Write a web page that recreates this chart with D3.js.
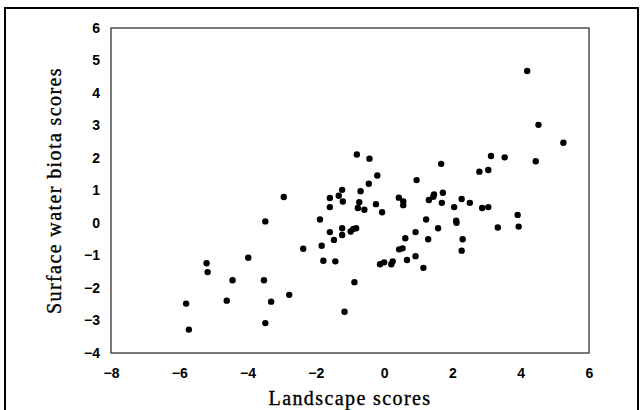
<!DOCTYPE html>
<html>
<head>
<meta charset="utf-8">
<script src="https://cdn.jsdelivr.net/npm/d3@7"></script>
<style>
  body { margin: 0; background: #fff; }
  .tick text { font-family: "Liberation Sans", Arial, sans-serif; font-weight: bold; font-size: 14px; fill: #000; }
  .title { font-family: "Liberation Serif", "Times New Roman", serif; font-size: 20px; fill: #000; stroke: #000; stroke-width: 0.35px; }
</style>
</head>
<body>
<div id="chart"></div>
<script>
// scores
const landscape = [4.19, 4.52, 5.25, 3.13, 3.53, 4.44, 2.79, 3.05, 1.67, -0.80,
  -0.43, -0.20, 0.95, -0.45, -0.69, -1.23, -1.33, -1.59, -1.21, -1.59,
  -0.73, -0.77, -0.58, -0.24, -0.06, 0.43, 0.56, 0.56, 1.31, 1.44,
  1.46, 1.72, 1.69, 2.05, 2.27, 2.51, 2.87, 3.05, 3.91, 3.94,
  3.33, 2.11, 2.12, 1.23, 1.58, 0.92, 0.62, 1.29, 2.30, 2.27,
  0.44, 0.54, 0.92, 0.67, 1.15, -0.12, 0.00, 0.21, 0.25, -1.88,
  -1.59, -1.23, -1.23, -0.98, -0.90, -0.82, -1.47, -1.83, -2.37, -1.78,
  -1.43, -0.87, -1.16, -2.94, -3.48, -3.98, -5.20, -5.17, -4.44, -3.52,
  -5.80, -4.61, -3.31, -2.78, -3.48, -5.72];
const biota = [4.68, 3.02, 2.47, 2.06, 2.02, 1.90, 1.58, 1.63, 1.82, 2.11,
  1.98, 1.46, 1.32, 1.21, 0.98, 1.02, 0.84, 0.77, 0.66, 0.49,
  0.64, 0.46, 0.41, 0.58, 0.33, 0.78, 0.66, 0.55, 0.71, 0.81,
  0.88, 0.93, 0.62, 0.49, 0.74, 0.62, 0.46, 0.49, 0.25, -0.11,
  -0.14, 0.07, 0.01, 0.11, -0.16, -0.28, -0.47, -0.50, -0.50, -0.85,
  -0.81, -0.78, -1.02, -1.14, -1.38, -1.27, -1.21, -1.27, -1.18, 0.11,
  -0.28, -0.16, -0.37, -0.26, -0.18, -0.16, -0.52, -0.70, -0.79, -1.16,
  -1.18, -1.82, -2.73, 0.80, 0.05, -1.07, -1.24, -1.51, -1.76, -1.76,
  -2.48, -2.39, -2.42, -2.21, -3.08, -3.28];
const xTicks = [-8, -6, -4, -2, 0, 2, 4, 6];
const yTicks = [-4, -3, -2, -1, 0, 1, 2, 3, 4, 5, 6];

const W = 640, H = 410;
const margin = { top: 28, right: 51, bottom: 57, left: 111 },
    width = W - margin.left - margin.right,
    height = H - margin.top - margin.bottom;

const root = d3.select("#chart").append("svg")
    .attr("width", W)
    .attr("height", H);

// outer frame, bottom edge runs past the picture
root.append("rect")
    .attr("x", 5).attr("y", 8)
    .attr("width", 633).attr("height", 420)
    .attr("fill", "none")
    .attr("stroke", "#000")
    .attr("stroke-width", 2);

const svg = root.append("g")
    .attr("transform", `translate(${margin.left},${margin.top})`);

const x = d3.scaleLinear().domain([-8, 6]).range([0, width]);
const y = d3.scaleLinear().domain([-4, 6]).range([height, 0]);

svg.append("g")
    .attr("transform", `translate(0, ${height})`)
    .call(d3.axisBottom(x).tickValues(xTicks).tickSize(0).tickPadding(15))
    .call(g => g.select(".domain").remove());

svg.append("g")
    .call(d3.axisLeft(y).tickValues(yTicks).tickSize(0).tickPadding(11))
    .call(g => g.select(".domain").remove());

// plot box
svg.append("rect")
    .attr("width", width)
    .attr("height", height)
    .attr("fill", "none")
    .attr("stroke", "#333")
    .attr("stroke-width", 1.3);

// points
svg.append("g")
    .selectAll("circle")
    .data(landscape.map((d, i) => [d, biota[i]]))
    .join("circle")
    .attr("cx", d => x(d[0]))
    .attr("cy", d => y(d[1]))
    .attr("r", 3.2)
    .attr("fill", "#000");

// axis titles
svg.append("text")
    .attr("class", "title")
    .attr("x", width / 2)
    .attr("y", height + 52)
    .attr("text-anchor", "middle")
    .style("letter-spacing", "1.4px")
    .text("Landscape scores");

svg.append("text")
    .attr("class", "title")
    .attr("transform", `translate(${-50},${height / 2}) rotate(-90)`)
    .attr("text-anchor", "middle")
    .style("letter-spacing", "1.4px")
    .text("Surface water biota scores");
</script>
</body>
</html>
